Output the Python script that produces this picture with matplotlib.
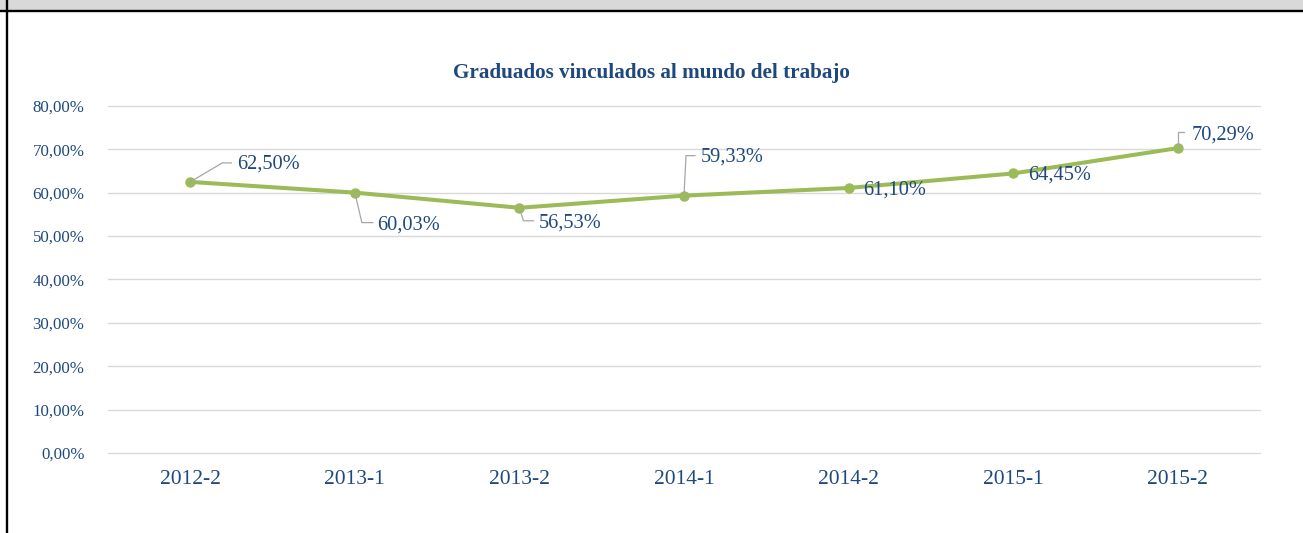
import matplotlib
matplotlib.use("Agg")
import matplotlib.pyplot as plt
from matplotlib.lines import Line2D
from matplotlib.patches import Rectangle
from matplotlib.transforms import IdentityTransform
from matplotlib.ticker import FuncFormatter, MultipleLocator

# ---- data ----
categories = ["2012-2", "2013-1", "2013-2", "2014-1", "2014-2", "2015-1", "2015-2"]
values = [62.50, 60.03, 56.53, 59.33, 61.10, 64.45, 70.29]
labels = ["62,50%", "60,03%", "56,53%", "59,33%", "61,10%", "64,45%", "70,29%"]
title = "Graduados vinculados al mundo del trabajo"

# ---- styles ----
W, H, DPI = 1303, 533, 100
TXT = "#1F497D"
GREEN = "#9BBB59"
GRID = "#D9D9D9"
LEADER = "#A6A6A6"
plt.rcParams["font.family"] = ["Liberation Serif", "DejaVu Serif"]

# label placement (pixel offsets from the point): leader polyline, text anchor
leaders = [
    [(0, 0), (32, 19), (41, 19)],
    [(0, 0), (7, -30), (18, -30)],
    [(0, 0), (4, -13), (14, -13)],
    [(0, 0), (2, 40), (11, 40)],
    None,
    None,
    [(0, 0), (0, 16), (6, 16)],
]
text_off = [(47, 18), (22, -32), (19, -15), (17, 39), (15, -2), (15, -2), (14, 13)]

fig = plt.figure(figsize=(W / DPI, H / DPI), dpi=DPI)
fig.patch.set_facecolor("white")

# header band and frame
fig.add_artist(Rectangle((0, 1 - 10 / H), 1, 10 / H, transform=fig.transFigure,
                         facecolor="#D9D9D9", edgecolor="none", zorder=0))
fig.add_artist(Line2D([0, 1], [1 - 11 / H, 1 - 11 / H], transform=fig.transFigure,
                      color="black", lw=1.7))
fig.add_artist(Line2D([7 / W, 7 / W], [0, 1], transform=fig.transFigure,
                      color="black", lw=1.7))

ax = fig.add_axes([108 / W, (H - 453) / H, (1260 - 108) / W, (453 - 106) / H])
x = list(range(len(categories)))
ax.set_xlim(-0.5, len(categories) - 0.5)
ax.set_ylim(0, 80)
ax.yaxis.set_major_locator(MultipleLocator(10))
ax.yaxis.set_major_formatter(FuncFormatter(lambda v, p: f"{v:.2f}".replace(".", ",") + "%"))
ax.set_xticks(x)
ax.set_xticklabels(categories)
ax.grid(axis="y", color=GRID, lw=1.0)
ax.set_axisbelow(True)
for gl in ax.get_ygridlines():
    gl.set_clip_on(False)
for s in ax.spines.values():
    s.set_visible(False)
ax.tick_params(axis="y", length=0, pad=17, labelsize=12.2, labelcolor=TXT)
ax.tick_params(axis="x", length=0, pad=12, labelsize=15.5, labelcolor=TXT)

ax.plot(x, values, color=GREEN, lw=2.9, marker="o", markersize=6.5,
        markerfacecolor=GREEN, markeredgecolor=GREEN, zorder=3, clip_on=False)

fig.text(0.5, 1 - 73 / H, title, ha="center", va="center", fontsize=15.2,
         fontweight="bold", color=TXT)

fig.canvas.draw()
for gl in ax.get_ygridlines():
    gl.set_clip_on(False)
for i, (v, lab) in enumerate(zip(values, labels)):
    px, py = ax.transData.transform((i, v))
    if leaders[i] is not None:
        xs = [px + dx for dx, dy in leaders[i]]
        ys = [py + dy for dx, dy in leaders[i]]
        fig.add_artist(Line2D(xs, ys, transform=IdentityTransform(), color=LEADER,
                              lw=0.9, zorder=2))
    ax.annotate(lab, (i, v), xytext=text_off[i], textcoords="offset pixels",
                ha="left", va="center", fontsize=14.7, color=TXT, zorder=4)

fig.savefig("out.png", dpi=DPI)
